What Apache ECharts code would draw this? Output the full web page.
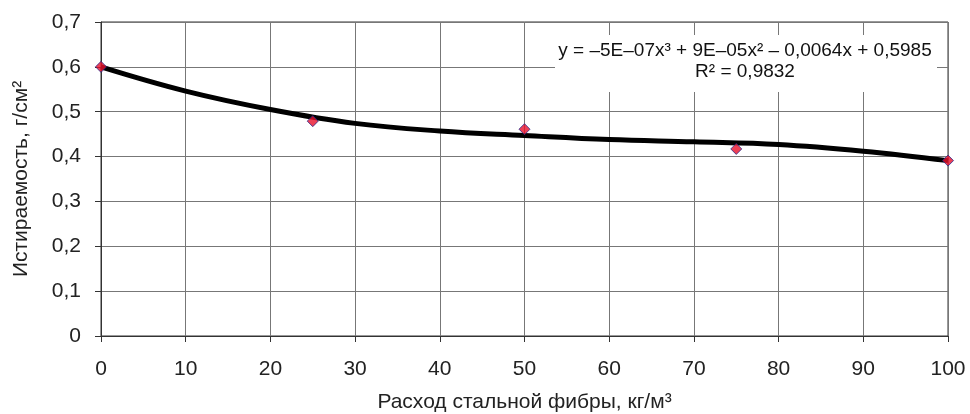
<!DOCTYPE html>
<html>
<head>
<meta charset="utf-8">
<script src="https://cdn.jsdelivr.net/npm/echarts@6/dist/echarts.min.js"></script>
<style>
  html, body { margin: 0; padding: 0; background: #fff; }
  #main { width: 970px; height: 414px; }
</style>
</head>
<body>
<div id="main"></div>
<script>
// измеренные точки
var fiberDose = [0, 25, 50, 75, 100];
var wearValues = [0.60, 0.479, 0.461, 0.417, 0.391];

// линия тренда
var trendX = [0, 10, 20, 30, 40, 50, 60, 70, 80, 90, 100];
var trendY = [0.600, 0.546, 0.505, 0.474, 0.457, 0.447, 0.438, 0.433, 0.427, 0.412, 0.391];

var equationText = 'y = –5E–07x³ + 9E–05x² – 0,0064x + 0,5985';
var r2Text = 'R² = 0,9832';

var font = 'Liberation Sans, Arial, sans-serif';

var chart = echarts.init(document.getElementById('main'));
chart.setOption({
  animation: false,
  backgroundColor: '#fff',
  textStyle: { fontFamily: font },
  grid: {
    left: 101, right: 22, top: 22, bottom: 78,
    outerBoundsMode: 'none', containLabel: false,
    show: true, borderColor: '#333', borderWidth: 1, backgroundColor: 'transparent'
  },
  graphic: [{
    type: 'group',
    children: [{
      type: 'rect',
      shape: { x: 555, y: 35, width: 382, height: 57 },
      style: { fill: '#fff' },
      z: 10
    }, {
      type: 'text',
      x: 745, y: 51,
      style: { text: equationText, font: '19px ' + font, fill: '#111', align: 'center', verticalAlign: 'middle' },
      z: 11
    }, {
      type: 'text',
      x: 745, y: 72,
      style: { text: r2Text, font: '19px ' + font, fill: '#111', align: 'center', verticalAlign: 'middle' },
      z: 11
    }]
  }],
  xAxis: {
    type: 'value',
    min: 0, max: 100, interval: 10,
    name: 'Расход стальной фибры, кг/м³',
    nameLocation: 'middle',
    nameGap: 56,
    nameTextStyle: { fontSize: 21, color: '#222', fontFamily: font },
    axisLine: { lineStyle: { color: '#333' } },
    axisTick: { show: true, inside: false, length: 6, lineStyle: { color: '#333' } },
    axisLabel: { fontSize: 21, color: '#222', margin: 23, fontFamily: font },
    splitLine: { show: true, lineStyle: { color: '#777', width: 1 } }
  },
  yAxis: {
    type: 'value',
    min: 0, max: 0.7, interval: 0.1,
    name: 'Истираемость, г/см²',
    nameLocation: 'middle',
    nameGap: 69,
    nameTextStyle: { fontSize: 21, color: '#222', fontFamily: font },
    axisLine: { show: true, lineStyle: { color: '#333' } },
    axisTick: { show: true, inside: false, length: 6, lineStyle: { color: '#333' } },
    axisLabel: {
      fontSize: 21, color: '#222', margin: 20, fontFamily: font,
      formatter: function (v) { return (Math.round(v * 10) / 10).toString().replace('.', ','); }
    },
    splitLine: { show: true, lineStyle: { color: '#777', width: 1 } }
  },
  series: [{
    type: 'line',
    data: trendX.map(function (x, i) { return [x, trendY[i]]; }),
    smooth: 0.4,
    showSymbol: false,
    lineStyle: { color: '#000', width: 5 },
    z: 2
  }, {
    type: 'scatter',
    data: fiberDose.map(function (x, i) { return [x, wearValues[i]]; }),
    symbol: 'diamond',
    symbolSize: 11,
    itemStyle: { color: '#e8102a', borderColor: '#2a2a8c', borderWidth: 1 },
    z: 3
  }]
});
</script>
</body>
</html>
